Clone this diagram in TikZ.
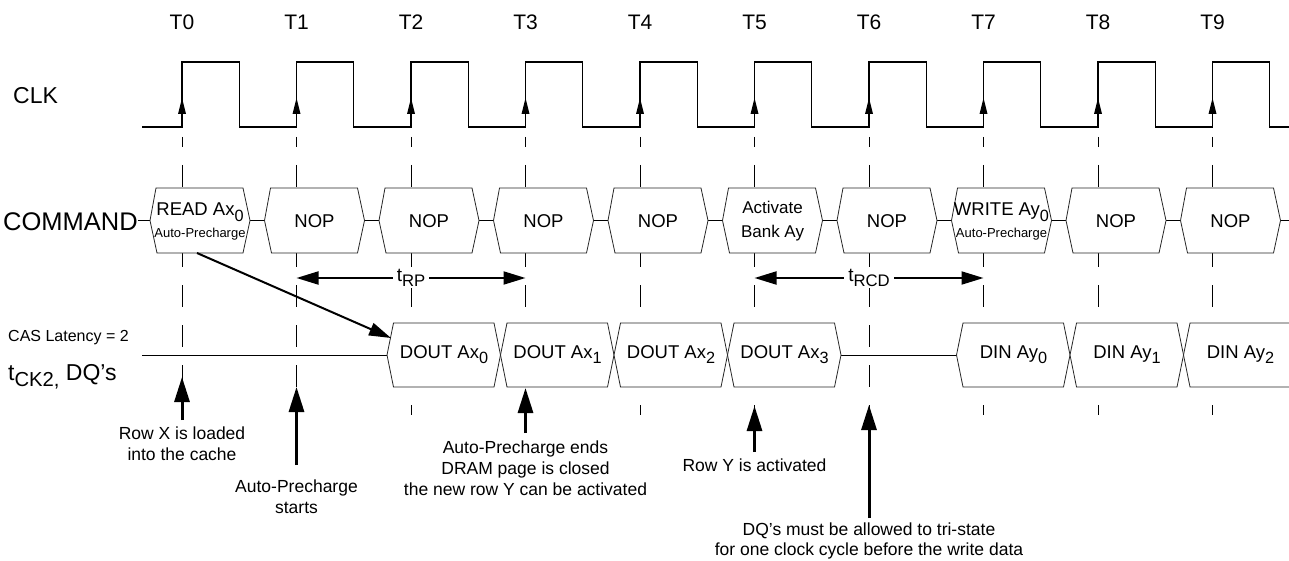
\documentclass[tikz,border=0pt]{standalone}
\usepackage{fontspec}
\setmainfont{Liberation Sans}
\usepackage{graphicx}
\usetikzlibrary{arrows.meta}
\newcommand\fs[1]{\fontsize{#1}{#1}\selectfont}
\newcommand\lowsub[1]{\raisebox{-0.3em}{\scalebox{0.88}{#1}}}
\begin{document}
\begin{tikzpicture}[x=1pt,y=-1pt,
  wave/.style={line width=1.3pt},
  gridln/.style={line width=0.9pt, dash pattern=on 22pt off 18pt, dash phase=12pt},
  hexst/.style={draw=black!85, line width=0.8pt, fill=white},
  lbl/.style={inner sep=0pt, font=\fs{18.5}, anchor=base},
  small/.style={inner sep=0pt, font=\fs{13}, anchor=base},
  big/.style={line width=3pt, -{Triangle[length=25pt,width=15pt]}},
  spanarr/.style={line width=2pt, {Triangle[length=22pt,width=13pt]}-{Triangle[length=22pt,width=13pt]}},
  note/.style={align=center, font=\fs{17.5}, inner sep=0pt, anchor=base},
  side/.style={inner sep=0pt, anchor=base west}
]
\useasboundingbox (0,0) rectangle (1289,561);

% time labels and grid
\foreach \i in {0,...,9} {
  \pgfmathsetmacro\xx{182+114.5*\i}
  \node[inner sep=0pt, anchor=base, font=\fs{21}] (T\i) at (\xx,30) {T\i};
  \draw[gridln] (\xx,137) -- (\xx,415);
  \coordinate (g\i) at (\xx,278);
}

% clock
\draw[wave] (142,127)
  \foreach \i in {0,...,9} {
    -- ({182+114.5*\i},127) -- ({182+114.5*\i},62)
    -- ({239.25+114.5*\i},62) -- ({239.25+114.5*\i},127) }
  -- (1289,127);
\foreach \i in {0,...,9} {
  \pgfmathsetmacro\xx{182+114.5*\i}
  \fill ({\xx-4},114) -- (\xx,98) -- ({\xx+4},114) -- cycle;
}

% left labels
\node[side, font=\fs{23}] (clk) at (13,104) {CLK};
\node[side, font=\fs{25.5}] (cmd) at (3,230) {COMMAND};
\node[side, font=\fs{16}] (cas) at (8,341) {CAS Latency = 2};
\node[side, font=\fs{23}] (tck) at (8,380) {t\lowsub{CK2,} DQ's};

% command row
\draw[line width=0.8pt] (cmd.east |- 0,220.5) -- (1289,220.5);
\foreach \i in {0,...,9} {
  \pgfmathsetmacro\xa{150+114.5*\i}
  \pgfmathsetmacro\xb{\xa+100}
  \filldraw[hexst] (\xa,220.5) -- ({\xa+6},188) -- ({\xb-7},188) -- (\xb,220.5)
     -- ({\xb-7},253) -- ({\xa+7},253) -- cycle;
}
\node[lbl] (c0a) at (200,215.5) {READ Ax\lowsub{0}};
\node[small] (c0b) at (200,237.5) {Auto-Precharge};
\node[lbl] (c1) at (314.5,227.5) {NOP};
\node[lbl] (c2) at (429,227.5) {NOP};
\node[lbl] (c3) at (543.5,227.5) {NOP};
\node[lbl] (c4) at (658,227.5) {NOP};
\node[lbl, font=\fs{17}] (c5a) at (772.5,213.5) {Activate};
\node[lbl, font=\fs{17}] (c5b) at (772.5,238) {Bank Ay};
\node[lbl] (c6) at (887,227.5) {NOP};
\node[lbl] (c7a) at (1001.5,215.5) {WRITE Ay\lowsub{0}};
\node[small] (c7b) at (1001.5,237.5) {Auto-Precharge};
\node[lbl] (c8) at (1116,227.5) {NOP};
\node[lbl] (c9) at (1230.5,227.5) {NOP};

% DQ row
\draw[line width=0.8pt] (142,355) -- (387,355);
\draw[line width=0.8pt] (841,355) -- (956.5,355);
\foreach \i in {0,...,3} {
  \pgfmathsetmacro\xa{387+113.5*\i}
  \pgfmathsetmacro\xb{\xa+113.5}
  \filldraw[hexst] (\xa,355) -- ({\xa+6.5},323) -- ({\xb-6.5},323) -- (\xb,355)
     -- ({\xb-6.5},387) -- ({\xa+6.5},387) -- cycle;
}
\foreach \i in {0,1} {
  \pgfmathsetmacro\xa{956.5+113.5*\i}
  \pgfmathsetmacro\xb{\xa+113.5}
  \filldraw[hexst] (\xa,355) -- ({\xa+6.5},323) -- ({\xb-6.5},323) -- (\xb,355)
     -- ({\xb-6.5},387) -- ({\xa+6.5},387) -- cycle;
}
\filldraw[hexst] (1292,323) -- (1190,323) -- (1183.5,355) -- (1190,387) -- (1292,387);
\node[lbl] (d0) at (444,358) {DOUT Ax\lowsub{0}};
\node[lbl] (d1) at (557.5,358) {DOUT Ax\lowsub{1}};
\node[lbl] (d2) at (671,358) {DOUT Ax\lowsub{2}};
\node[lbl] (d3) at (784.5,358) {DOUT Ax\lowsub{3}};
\node[lbl] (i0) at (1013.5,358) {DIN Ay\lowsub{0}};
\node[lbl] (i1) at (1127,358) {DIN Ay\lowsub{1}};
\node[lbl] (i2) at (1240.5,358) {DIN Ay\lowsub{2}};

% timing spans
\draw[spanarr] (g1) -- (g3) node[midway, fill=white, inner xsep=4pt, inner ysep=1pt, font=\fs{19}] (trp) {t\lowsub{RP}};
\draw[spanarr] (g5) -- (g7) node[midway, fill=white, inner xsep=4pt, inner ysep=1pt, font=\fs{19}] (trcd) {t\lowsub{RCD}};

% diagonal arrow
\coordinate (rdb) at (197,253);
\coordinate (dq0) at (391,338);
\draw[line width=2pt, -{Triangle[length=22pt,width=13pt]}] (rdb) -- (dq0);

% bottom arrows and notes
\coordinate (a0t) at (182,420); \coordinate (a0h) at (182,377);
\coordinate (a1t) at (296.5,465); \coordinate (a1h) at (296.5,387);
\coordinate (a3t) at (525.5,433); \coordinate (a3h) at (525.5,388);
\coordinate (a5t) at (754.5,452); \coordinate (a5h) at (754.5,406);
\coordinate (a6t) at (869,518); \coordinate (a6h) at (869,405);
\draw[big] (a0t) -- (a0h);
\draw[big] (a1t) -- (a1h);
\draw[big] (a3t) -- (a3h);
\draw[big] (a5t) -- (a5h);
\draw[big] (a6t) -- (a6h);

\node[note] (n0) at (182,439) {Row X is loaded};
\node[note] (n0b) at (182,460) {into the cache};
\node[note] (n1) at (296.5,492) {Auto-Precharge};
\node[note] (n1b) at (296.5,513) {starts};
\node[note] (n3) at (525.5,453) {Auto-Precharge ends};
\node[note] (n3b) at (525.5,474) {DRAM page is closed};
\node[note] (n3c) at (525.5,495) {the new row Y can be activated};
\node[note] (n5) at (754.5,471.5) {Row Y is activated};
\node[note] (n6) at (869,535) {DQ’s must be allowed to tri-state};
\node[note] (n6b) at (869,555) {for one clock cycle before the write data};
\end{tikzpicture}
\end{document}
